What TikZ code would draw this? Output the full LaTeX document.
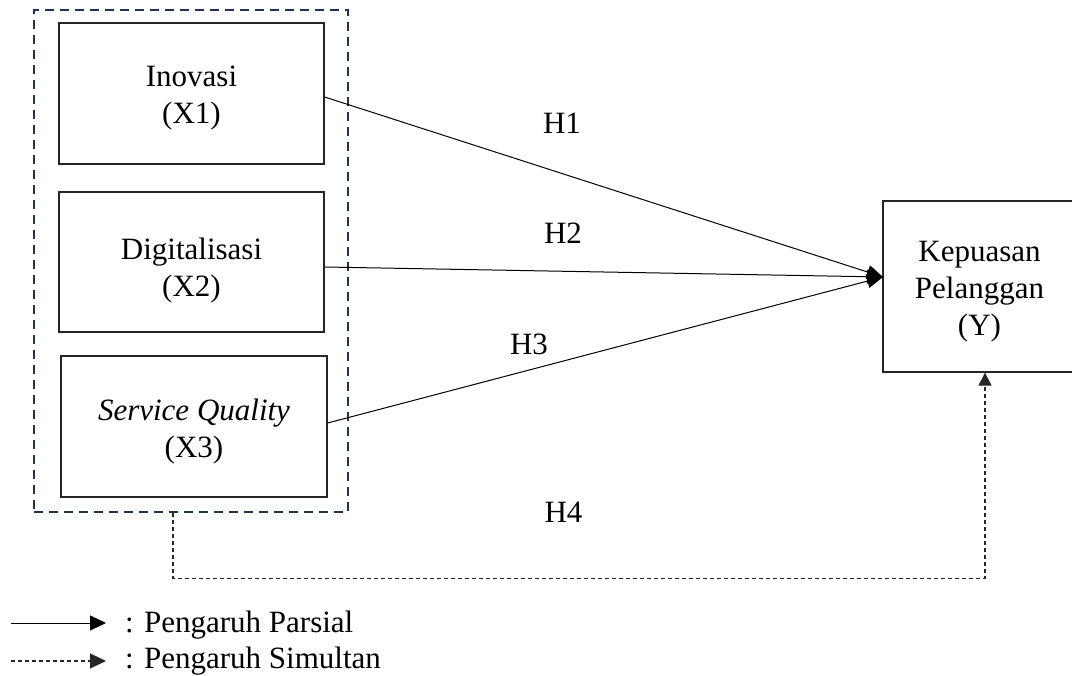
\documentclass[tikz,border=0pt]{standalone}
\usepackage{fontspec}
\setmainfont{Liberation Serif}
\usetikzlibrary{arrows.meta}
\definecolor{navy}{HTML}{1F3352}
\begin{document}
\begin{tikzpicture}[x=1pt,y=-1pt,
  vbox/.style={draw=black!85, line width=1.3pt, inner sep=0pt, rectangle},
  lbl/.style={font=\fontsize{31}{37}\selectfont, align=center, inner sep=0pt},
  grpbox/.style={draw=navy, line width=2.7pt, dash pattern=on 9pt off 6pt, inner sep=0pt, rectangle},
  partial/.style={line width=1pt, -{Triangle[length=16pt,width=14pt]}},
  simul/.style={line width=1.1pt, draw=black!85, dash pattern=on 4pt off 3pt, -{Triangle[length=13pt,width=13pt]}}]
\useasboundingbox (0,0) rectangle (1072,676);

\node[grpbox, minimum width=314pt, minimum height=502pt] (grp) at (191,261) {};
\node[vbox, minimum width=265pt, minimum height=141pt] (x1) at (191.5,93.5) {};
\node[vbox, minimum width=265pt, minimum height=140pt] (x2) at (191.5,262) {};
\node[vbox, minimum width=266pt, minimum height=141pt] (x3) at (194,426.5) {};
\node[vbox, minimum width=193pt, minimum height=171pt] (y) at (979.5,286.5) {};

\node[lbl, anchor=base] (t1) at (191.5,124) {Inovasi\\(X1)};
\node[lbl, anchor=base] (t2) at (191.5,297) {Digitalisasi\\(X2)};
\node[lbl, anchor=base] (t3) at (194,458) {\textit{Service Quality}\\(X3)};
\node[lbl, anchor=base] (ty) at (979.5,336) {Kepuasan\\Pelanggan\\(Y)};

\coordinate (yin) at (883,277);
\draw[partial] ([yshift=-3.5pt]x1.east) -- (yin);
\draw[partial] ([yshift=-5pt]x2.east) -- (yin);
\draw[partial] ([yshift=3.5pt]x3.east) -- (yin);

\node[lbl, anchor=base] (h1) at (562,134) {H1};
\node[lbl, anchor=base] (h2) at (563,244) {H2};
\node[lbl, anchor=base] (h3) at (529,355) {H3};
\node[lbl, anchor=base] (h4) at (563.5,522) {H4};

\draw[simul] ([xshift=-18pt]grp.south) -- ++(0,65) -| ([xshift=5.5pt]y.south);

\coordinate (l1a) at (11,623);
\coordinate (l1b) at (106,623);
\coordinate (l2a) at (11,661);
\coordinate (l2b) at (106,661);
\draw[line width=1pt, -{Triangle[length=16pt,width=15pt]}] (l1a) -- (l1b);
\draw[line width=1.1pt, draw=black!85, dash pattern=on 4pt off 3pt, -{Triangle[length=16pt,width=15pt]}] (l2a) -- (l2b);
\node[lbl, anchor=base west] (leg1) at (125,632) {: Pengaruh Parsial};
\node[lbl, anchor=base west] (leg2) at (125,668) {: Pengaruh Simultan};
\end{tikzpicture}
\end{document}
